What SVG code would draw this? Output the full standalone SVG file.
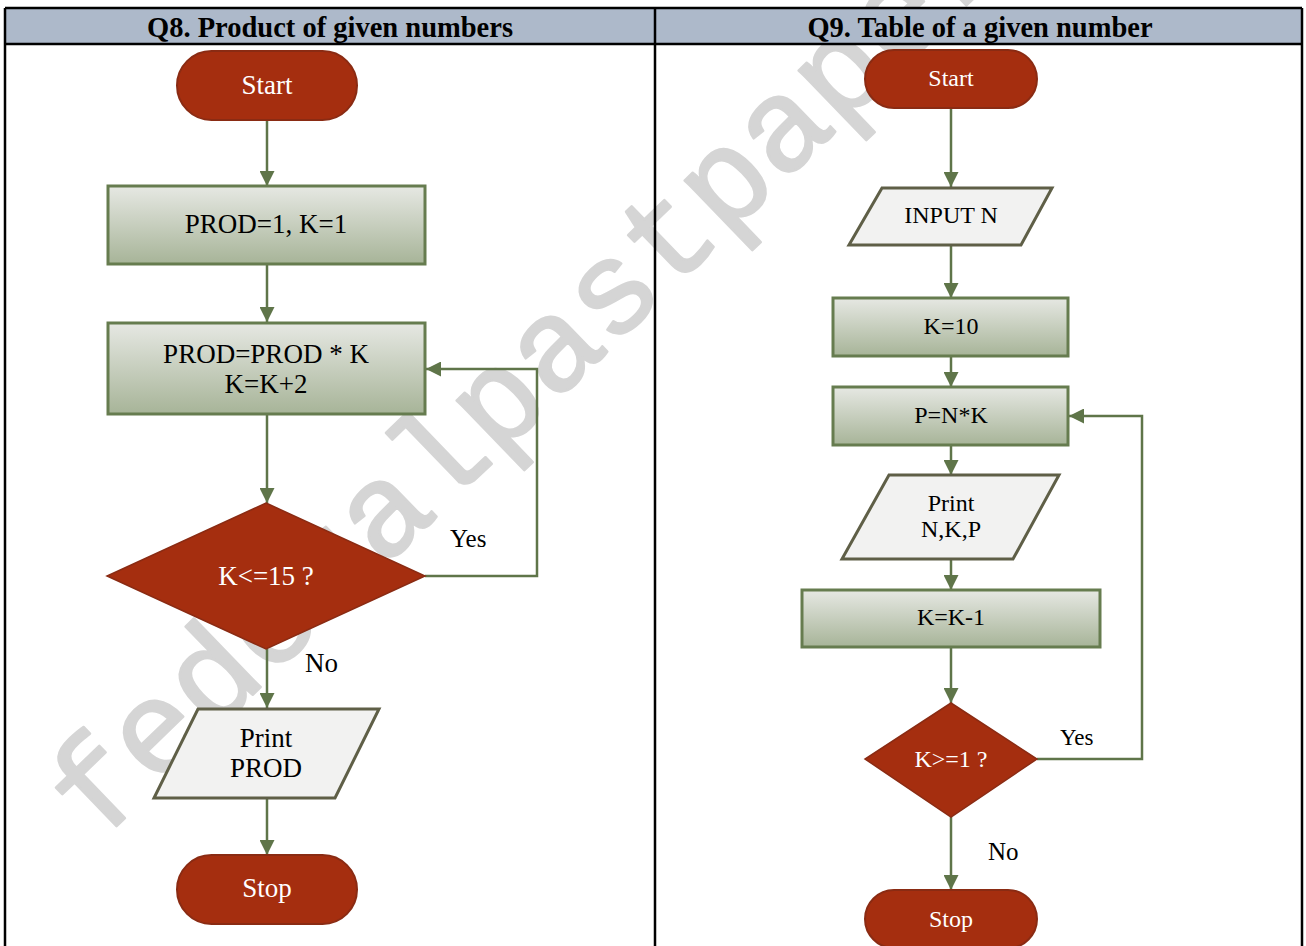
<svg xmlns="http://www.w3.org/2000/svg" width="1306" height="946" viewBox="0 0 1306 946">
<style>
  .wm{font-family:"Liberation Mono","DejaVu Sans Mono",monospace;font-size:132px;fill:#d5d5d5;stroke:#d5d5d5;stroke-width:2.5;stroke-linejoin:round}
  .hdr{font-family:"Liberation Serif","Times New Roman",serif;font-weight:bold;font-size:28.5px;fill:#000;text-anchor:middle}
  .term{fill:#a52e0f;stroke:#8a2b13;stroke-width:2}
  .dec{fill:#a52e0f;stroke:#8a2b13;stroke-width:1.5}
  .proc{fill:url(#gp);stroke:#667c4f;stroke-width:3}
  .io{fill:#f2f2f1;stroke:#5f5f47;stroke-width:3}
  .tw{font-family:"Liberation Serif","Times New Roman",serif;fill:#ffffff;text-anchor:middle}
  .tb{font-family:"Liberation Serif","Times New Roman",serif;fill:#000000;text-anchor:middle}
  .L{font-size:27px}
  .R{font-size:24px}
  .lbl{font-family:"Liberation Serif","Times New Roman",serif;fill:#000000}
  .conn{fill:none;stroke:#5f7549;stroke-width:2.5}
  .grid{fill:none;stroke:#000;stroke-width:2.5}
</style>
<defs>
  <linearGradient id="gp" x1="0" y1="0" x2="0" y2="1">
    <stop offset="0" stop-color="#e6e8e3"/>
    <stop offset="1" stop-color="#a7b498"/>
  </linearGradient>
  <marker id="ah" viewBox="0 0 10 10" refX="10" refY="5" markerWidth="15" markerHeight="15" markerUnits="userSpaceOnUse" orient="auto">
    <path d="M0,0 L10,5 L0,10 z" fill="#5f7549"/>
  </marker>
</defs>
<rect x="0" y="0" width="1306" height="946" fill="#ffffff"/>
<g id="watermark">
  <text class="wm" transform="translate(98,844) rotate(-44)">federalpastpapers</text>
</g>
<g id="table">
  <rect x="5" y="8" width="1297" height="36" fill="#adb9ca"/>
  <path class="grid" d="M5,8 H1302 M5,44 H1302 M5,8 V946 M655,8 V946 M1302,8 V946"/>
  <text class="hdr" x="330" y="37">Q8. Product of given numbers</text>
  <text class="hdr" x="980" y="37">Q9. Table of a given number</text>
</g>
<g id="connectors">
  <path class="conn" d="M267,120 V186" marker-end="url(#ah)"/>
  <path class="conn" d="M267,264 V322" marker-end="url(#ah)"/>
  <path class="conn" d="M267,414 V503" marker-end="url(#ah)"/>
  <path class="conn" d="M425,576 H537 V369 H426" marker-end="url(#ah)"/>
  <path class="conn" d="M267,649 V708" marker-end="url(#ah)"/>
  <path class="conn" d="M267,798 V855" marker-end="url(#ah)"/>
  <text class="lbl" x="450" y="547" font-size="25">Yes</text>
  <text class="lbl" x="305" y="672" font-size="27">No</text>

  <path class="conn" d="M951,108 V187" marker-end="url(#ah)"/>
  <path class="conn" d="M951,245 V298" marker-end="url(#ah)"/>
  <path class="conn" d="M951,356 V387" marker-end="url(#ah)"/>
  <path class="conn" d="M951,445 V475" marker-end="url(#ah)"/>
  <path class="conn" d="M951,559 V590" marker-end="url(#ah)"/>
  <path class="conn" d="M951,647 V703" marker-end="url(#ah)"/>
  <path class="conn" d="M1037,759 H1142 V416 H1069" marker-end="url(#ah)"/>
  <path class="conn" d="M951,817 V890" marker-end="url(#ah)"/>
  <text class="lbl" x="1060" y="745" font-size="23">Yes</text>
  <text class="lbl" x="988" y="860" font-size="25">No</text>
</g>
<g id="q8-start">
  <rect class="term" x="177" y="51" width="180" height="69" rx="34.5"/>
  <text class="tw L" x="267" y="94">Start</text>
</g>
<g id="q8-init">
  <rect class="proc" x="108" y="186" width="317" height="78"/>
  <text class="tb L" x="266" y="233">PROD=1, K=1</text>
</g>
<g id="q8-loop">
  <rect class="proc" x="108" y="323" width="317" height="91"/>
  <text class="tb L" x="266" y="363">PROD=PROD * K</text>
  <text class="tb L" x="266" y="393">K=K+2</text>
</g>
<g id="q8-decision">
  <polygon class="dec" points="266,503 425,576 266,649 107,576"/>
  <text class="tw L" x="266" y="585">K&lt;=15 ?</text>
</g>
<g id="q8-print">
  <polygon class="io" points="198,709 379,709 335,798 154,798"/>
  <text class="tb L" x="266" y="747">Print</text>
  <text class="tb L" x="266" y="777">PROD</text>
</g>
<g id="q8-stop">
  <rect class="term" x="177" y="855" width="180" height="69" rx="34.5"/>
  <text class="tw L" x="267" y="897">Stop</text>
</g>

<g id="q9-start">
  <rect class="term" x="865" y="50" width="172" height="58" rx="29"/>
  <text class="tw R" x="951" y="86">Start</text>
</g>
<g id="q9-input">
  <polygon class="io" points="882,188 1052,188 1021,245 849,245"/>
  <text class="tb R" x="951" y="223">INPUT N</text>
</g>
<g id="q9-k10">
  <rect class="proc" x="833" y="298" width="235" height="58"/>
  <text class="tb R" x="951" y="334">K=10</text>
</g>
<g id="q9-p">
  <rect class="proc" x="833" y="387" width="235" height="58"/>
  <text class="tb R" x="951" y="423">P=N*K</text>
</g>
<g id="q9-print">
  <polygon class="io" points="889,475 1059,475 1013,559 842,559"/>
  <text class="tb R" x="951" y="511">Print</text>
  <text class="tb R" x="951" y="537">N,K,P</text>
</g>
<g id="q9-dec">
  <rect class="proc" x="802" y="590" width="298" height="57"/>
  <text class="tb R" x="951" y="625">K=K-1</text>
</g>
<g id="q9-decision">
  <polygon class="dec" points="951,703 1037,759 951,817 865,759"/>
  <text class="tw R" x="951" y="767">K&gt;=1 ?</text>
</g>
<g id="q9-stop">
  <rect class="term" x="865" y="890" width="172" height="58" rx="29"/>
  <text class="tw R" x="951" y="927">Stop</text>
</g>
</svg>
